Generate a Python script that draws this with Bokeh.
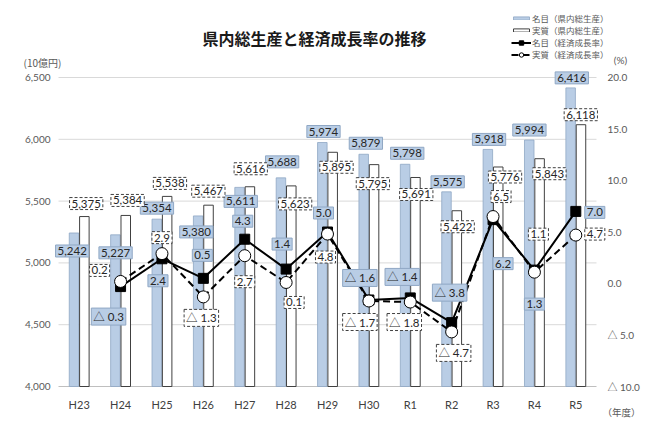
from bokeh.plotting import figure
from bokeh.models import Range1d, Label, Legend, LegendItem, ColumnDataSource
from bokeh.transform import dodge
from bokeh.embed import file_html
from bokeh.resources import INLINE

# ---- data -------------------------------------------------------------
years = ["H23", "H24", "H25", "H26", "H27", "H28", "H29",
         "H30", "R1", "R2", "R3", "R4", "R5"]
gdp_nominal = [5242, 5227, 5354, 5380, 5611, 5688, 5974,
               5879, 5798, 5575, 5918, 5994, 6416]          # 10億円
gdp_real = [5375, 5384, 5538, 5467, 5616, 5623, 5895,
            5795, 5691, 5422, 5776, 5843, 6118]             # 10億円
growth_years = years[1:]
growth_nominal = [-0.3, 2.4, 0.5, 4.3, 1.4, 5.0, -1.6, -1.4, -3.8, 6.2, 1.3, 7.0]  # %
growth_real = [0.2, 2.9, -1.3, 2.7, 0.1, 4.8, -1.7, -1.8, -4.7, 6.5, 1.1, 4.7]     # %
gdp_ticks = [4000, 4500, 5000, 5500, 6000, 6500]
pct_ticks = [-10, -5, 0, 5, 10, 15, 20]

# ---- label nudges (screen px: right, up) ------------------------------
nom_gdp_off = [(-7, -18), (-5, -18), (-5, 11), (-7, -16), (-4, -14), (-4, 16), (-4, 11),
               (-3, 11), (-3, 11), (-4, 10), (-4, 10), (-5, 10), (-4, 10)]
real_gdp_off = [(7, 13), (7, 15), (8, 13), (5, 14), (6, 18), (9, -18), (9, -15),
                (4, -19), (6, -17), (6, -16), (12, -10), (15, -15), (5, 10)]
nom_pct_off = [(-12, -30), (-4, -22), (-1, 23), (-2, 18), (-4, 25), (-4, 19),
               (-9, 22), (-8, 21), (-2, 30), (10, -44), (0, -34), (19, -1)]
real_pct_off = [(-21, 11), (0, 16), (-2, -21), (0, -26), (8, -20), (-2, -23),
                (-9, -21), (-6, -20), (2, -21), (8, 20), (4, 38), (19, 1)]

# ---- layout & style ---------------------------------------------------
W, H = 665, 433
# plotting area inside the canvas (px)
LEFT, RIGHT, TOP, BOTTOM = 58, 596, 77, 386
BLUE = "#B9CDE5"
BLUE_EDGE = "#8FA7C4"
GRAY_TXT = "#595959"
NUM_FONT = 'Lato, "Noto Sans CJK JP"'
JP_FONT = "Noto Sans CJK JP"


def fmt_pct(v):
    return f"{v:.1f}" if v >= 0 else f"△ {abs(v):.1f}"


def padded_range(lo, hi, lo_px, hi_px, total_px):
    """Range whose [lo, hi] lands on pixels [lo_px, hi_px] of a canvas of total_px."""
    per_px = (hi - lo) / (hi_px - lo_px)
    return Range1d(lo - lo_px * per_px, hi + (total_px - hi_px) * per_px)


n = len(years)
x_range = padded_range(-0.5, n - 0.5, LEFT, RIGHT, W)
y_range = padded_range(gdp_ticks[0], gdp_ticks[-1], H - BOTTOM, H - TOP, H)
pct_range = padded_range(pct_ticks[0], pct_ticks[-1], H - BOTTOM, H - TOP, H)

# the frame fills the canvas so that labels near the edges stay visible
p = figure(width=W, height=H, output_backend="svg", toolbar_location=None,
           x_range=x_range, y_range=y_range, x_axis_type=None, y_axis_type=None,
           min_border=0, outline_line_color=None,
           background_fill_color="white", border_fill_color="white")
p.extra_y_ranges = {"pct": pct_range}

# ---- grid lines -------------------------------------------------------
p.segment(x0=-0.5, x1=n - 0.5, y0=gdp_ticks[1:], y1=gdp_ticks[1:],
          line_color="#D9D9D9", line_width=1)
p.segment(x0=-0.5, x1=n - 0.5, y0=gdp_ticks[0], y1=gdp_ticks[0],
          line_color="#BFBFBF", line_width=1)

# ---- bars -------------------------------------------------------------
bar_src = ColumnDataSource(dict(idx=list(range(n)), nom=gdp_nominal, real=gdp_real))
r_nom_bar = p.vbar(x=dodge("idx", -0.125), top="nom", bottom=gdp_ticks[0], width=0.23,
                   source=bar_src, fill_color=BLUE, line_color=BLUE_EDGE, line_width=0.8)
r_real_bar = p.vbar(x=dodge("idx", 0.125), top="real", bottom=gdp_ticks[0], width=0.23,
                    source=bar_src, fill_color="white", line_color="#404040", line_width=1)

# ---- growth lines -----------------------------------------------------
g_src = ColumnDataSource(dict(idx=list(range(1, n)), nom=growth_nominal, real=growth_real))
r_nom_line = p.line("idx", "nom", source=g_src, y_range_name="pct",
                    line_color="black", line_width=2)
r_nom_pt = p.scatter("idx", "nom", source=g_src, y_range_name="pct", marker="square",
                     size=10, fill_color="black", line_color="black")
r_real_line = p.line("idx", "real", source=g_src, y_range_name="pct", line_color="black",
                     line_width=2, line_dash="7 4")
r_real_pt = p.scatter("idx", "real", source=g_src, y_range_name="pct", marker="circle",
                      size=12, fill_color="white", line_color="black", line_width=1)


# ---- axis tick labels -------------------------------------------------
def tick_label(x, y, text, dx, dy, align, range_name="default", size="10px", color=GRAY_TXT):
    p.add_layout(Label(x=x, y=y, text=text, x_offset=dx, y_offset=dy, y_range_name=range_name,
                       text_align=align, text_baseline="middle", text_font=NUM_FONT,
                       text_font_size=size, text_color=color))


for t in gdp_ticks:
    tick_label(-0.5, t, f"{t:,}", -8, 0, "right")
for t in pct_ticks:
    tick_label(n - 0.5, t, fmt_pct(t), 11, 0, "left", "pct")
for i, name in enumerate(years):
    tick_label(i, gdp_ticks[0], name, 0, -18, "center", size="11px", color="#404040")


# ---- value labels -----------------------------------------------------
def box_label(x, y, text, off, solid, range_name="default"):
    lab = Label(x=x, y=y, text=text, x_offset=off[0], y_offset=off[1],
                y_range_name=range_name, text_align="center", text_baseline="middle",
                text_font=NUM_FONT, text_font_size="11.5px", text_color="#262626",
                padding=2)
    if solid:
        lab.background_fill_color = BLUE
        lab.border_line_color = BLUE_EDGE
        lab.border_line_width = 1
    else:
        lab.background_fill_color = "white"
        lab.border_line_color = "#404040"
        lab.border_line_width = 1
        lab.border_line_dash = "3 2"
    p.add_layout(lab)


for i, v in enumerate(gdp_nominal):
    box_label(i, v, f"{v:,}", nom_gdp_off[i], True)
for i, v in enumerate(gdp_real):
    box_label(i, v, f"{v:,}", real_gdp_off[i], False)
for i, v in enumerate(growth_nominal):
    box_label(i + 1, v, fmt_pct(v), nom_pct_off[i], True, "pct")
for i, v in enumerate(growth_real):
    box_label(i + 1, v, fmt_pct(v), real_pct_off[i], False, "pct")


# ---- free texts (canvas px; screen units count up from the bottom) ----
def canvas_text(cx, cy, text, size, font=JP_FONT, bold=False, color=GRAY_TXT):
    p.add_layout(Label(x=cx, y=H - cy, x_units="screen", y_units="screen",
                       text=text, text_align="center", text_baseline="middle",
                       text_font=font, text_font_size=size, text_color=color,
                       text_font_style="bold" if bold else "normal"))


canvas_text(314, 37, "県内総生産と経済成長率の推移", "16px", bold=True, color="#1a1a1a")
canvas_text(42, 62, "(10億円)", "10px")
canvas_text(620, 59, "(%)", "10px", font=NUM_FONT)
canvas_text(621, 411, "（年度）", "9.5px")

# ---- legends ----------------------------------------------------------
legend_style = dict(glyph_width=20, label_height=12, spacing=0, padding=0, margin=0,
                    label_standoff=1, border_line_color=None, background_fill_alpha=0,
                    label_text_font=JP_FONT, label_text_font_size="8.5px",
                    label_text_color=GRAY_TXT)
leg_bars = Legend(items=[LegendItem(label="名目（県内総生産）", renderers=[r_nom_bar]),
                         LegendItem(label="実質（県内総生産）", renderers=[r_real_bar])],
                  location=(511, H - 36), glyph_height=4, **legend_style)
leg_lines = Legend(items=[LegendItem(label="名目（経済成長率）", renderers=[r_nom_line, r_nom_pt]),
                          LegendItem(label="実質（経済成長率）", renderers=[r_real_line, r_real_pt])],
                   location=(511, H - 60), glyph_height=11, **legend_style)
p.add_layout(leg_bars)
p.add_layout(leg_lines)

open("out.html", "w").write(file_html(p, INLINE))
